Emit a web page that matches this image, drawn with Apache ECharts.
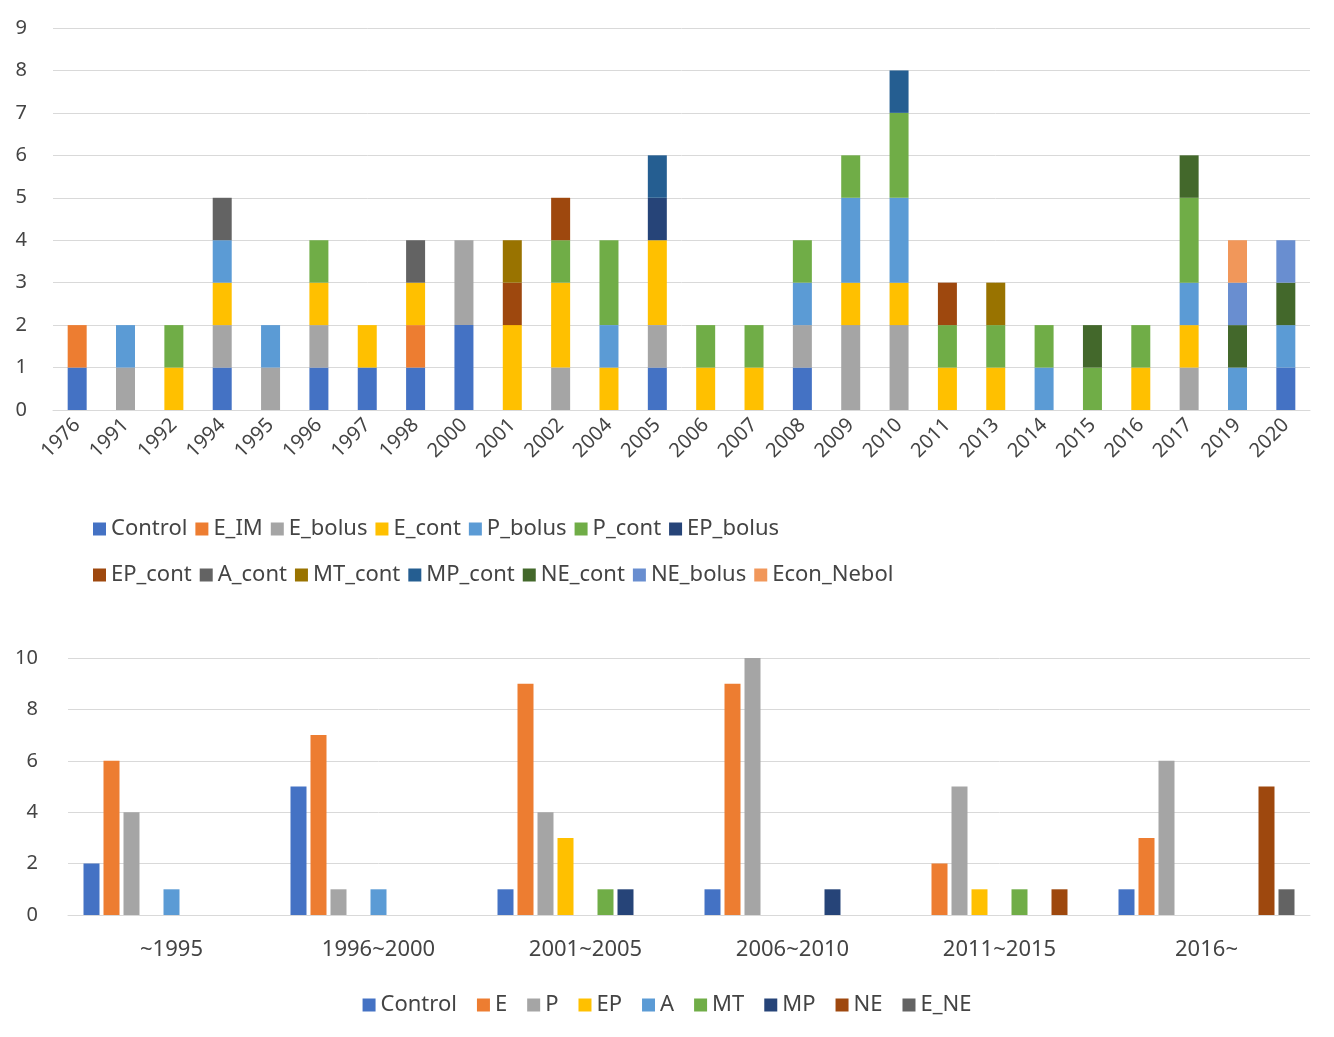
<!DOCTYPE html>
<html><head><meta charset="utf-8">
<script src="https://cdn.jsdelivr.net/npm/echarts@6/dist/echarts.min.js"></script>
<style>html,body{margin:0;padding:0;background:#fff}#c{width:1334px;height:1037px}</style>
</head><body><div id="c"></div>
<script>
const years=['1976','1991','1992','1994','1995','1996','1997','1998','2000','2001','2002','2004','2005','2006','2007','2008','2009','2010','2011','2013','2014','2015','2016','2017','2019','2020'];
const topNames=['Control','E_IM','E_bolus','E_cont','P_bolus','P_cont','EP_bolus','EP_cont','A_cont','MT_cont','MP_cont','NE_cont','NE_bolus','Econ_Nebol'];
const topColors=['#4472C4','#ED7D31','#A5A5A5','#FFC000','#5B9BD5','#70AD47','#264478','#9E480E','#636363','#997300','#255E91','#43682B','#698ED0','#F1975A'];
const Control   =[1,0,0,1,0,1,1,1,2,0,0,0,1,0,0,1,0,0,0,0,0,0,0,0,0,1];
const E_IM      =[1,0,0,0,0,0,0,1,0,0,0,0,0,0,0,0,0,0,0,0,0,0,0,0,0,0];
const E_bolus   =[0,1,0,1,1,1,0,0,2,0,1,0,1,0,0,1,2,2,0,0,0,0,0,1,0,0];
const E_cont    =[0,0,1,1,0,1,1,1,0,2,2,1,2,1,1,0,1,1,1,1,0,0,1,1,0,0];
const P_bolus   =[0,1,0,1,1,0,0,0,0,0,0,1,0,0,0,1,2,2,0,0,1,0,0,1,1,1];
const P_cont    =[0,0,1,0,0,1,0,0,0,0,1,2,0,1,1,1,1,2,1,1,1,1,1,2,0,0];
const EP_bolus  =[0,0,0,0,0,0,0,0,0,0,0,0,1,0,0,0,0,0,0,0,0,0,0,0,0,0];
const EP_cont   =[0,0,0,0,0,0,0,0,0,1,1,0,0,0,0,0,0,0,1,0,0,0,0,0,0,0];
const A_cont    =[0,0,0,1,0,0,0,1,0,0,0,0,0,0,0,0,0,0,0,0,0,0,0,0,0,0];
const MT_cont   =[0,0,0,0,0,0,0,0,0,1,0,0,0,0,0,0,0,0,0,1,0,0,0,0,0,0];
const MP_cont   =[0,0,0,0,0,0,0,0,0,0,0,0,1,0,0,0,0,1,0,0,0,0,0,0,0,0];
const NE_cont   =[0,0,0,0,0,0,0,0,0,0,0,0,0,0,0,0,0,0,0,0,0,1,0,1,1,1];
const NE_bolus  =[0,0,0,0,0,0,0,0,0,0,0,0,0,0,0,0,0,0,0,0,0,0,0,0,1,1];
const Econ_Nebol=[0,0,0,0,0,0,0,0,0,0,0,0,0,0,0,0,0,0,0,0,0,0,0,0,1,0];
const topData=[Control,E_IM,E_bolus,E_cont,P_bolus,P_cont,EP_bolus,EP_cont,A_cont,MT_cont,MP_cont,NE_cont,NE_bolus,Econ_Nebol];

const periods=['~1995','1996~2000','2001~2005','2006~2010','2011~2015','2016~'];
const botNames=['Control','E','P','EP','A','MT','MP','NE','E_NE'];
const botColors=['#4472C4','#ED7D31','#A5A5A5','#FFC000','#5B9BD5','#70AD47','#264478','#9E480E','#636363'];
const bControl=[2,5,1,1,0,1];
const bE=[6,7,9,9,2,3];
const bP=[4,1,4,10,5,6];
const bEP=[0,0,3,0,1,0];
const bA=[1,1,0,0,0,0];
const bMT=[0,0,1,0,1,0];
const bMP=[0,0,1,1,0,0];
const bNE=[0,0,0,0,1,5];
const bE_NE=[0,0,0,0,0,1];
const botData=[bControl,bE,bP,bEP,bA,bMT,bMP,bNE,bE_NE];

const F='Noto Sans';
const series=[];
topNames.forEach((n,i)=>series.push({name:n,type:'bar',stack:'t',xAxisIndex:0,yAxisIndex:0,barWidth:19,
  itemStyle:{color:topColors[i]},data:topData[i].map(v=>v===0?'-':v)}));
botNames.forEach((n,i)=>series.push({name:'b_'+n,type:'bar',xAxisIndex:1,yAxisIndex:1,barWidth:16,barGap:'25%',
  itemStyle:{color:botColors[i]},data:botData[i]}));
const legItem={icon:'rect',itemWidth:13,itemHeight:13,itemGap:8,formatter:n=>'{a|'+n+'}',
  textStyle:{fontFamily:F,fontSize:22,color:'#444',rich:{a:{width:141,fontSize:22,fontFamily:F,color:'#444'}}}};
const chart=echarts.init(document.getElementById('c'));
chart.setOption({
  animation:false,textStyle:{fontFamily:F},
  grid:[{left:53,right:24,top:28,height:382},{left:68,right:24,top:658,height:257}],
  xAxis:[{type:'category',gridIndex:0,data:years,axisTick:{show:false},axisLine:{lineStyle:{color:'#d9d9d9'}},
    axisLabel:{rotate:45,fontSize:20,color:'#444',fontFamily:F,margin:12,interval:0}},
    {type:'category',gridIndex:1,data:periods,axisTick:{show:false},axisLine:{lineStyle:{color:'#d9d9d9'}},
    axisLabel:{fontSize:22,color:'#444',fontFamily:F,margin:24}}],
  yAxis:[{type:'value',gridIndex:0,min:0,max:9,interval:1,splitLine:{lineStyle:{color:'#d9d9d9'}},axisLabel:{fontSize:20,color:'#444',margin:26}},
    {type:'value',gridIndex:1,min:0,max:10,interval:2,splitLine:{lineStyle:{color:'#d9d9d9'}},axisLabel:{fontSize:20,color:'#444',margin:30}}],
  legend:[Object.assign({left:88,top:513,data:topNames.slice(0,7)},legItem),
    Object.assign({left:88,top:559,data:topNames.slice(7)},legItem),
    {left:'center',top:989,icon:'rect',itemWidth:13,itemHeight:13,itemGap:20,textStyle:{fontFamily:F,fontSize:22,color:'#444'},
     data:botNames.map(n=>'b_'+n),formatter:n=>n.slice(2)}],
  series
});
</script></body></html>
